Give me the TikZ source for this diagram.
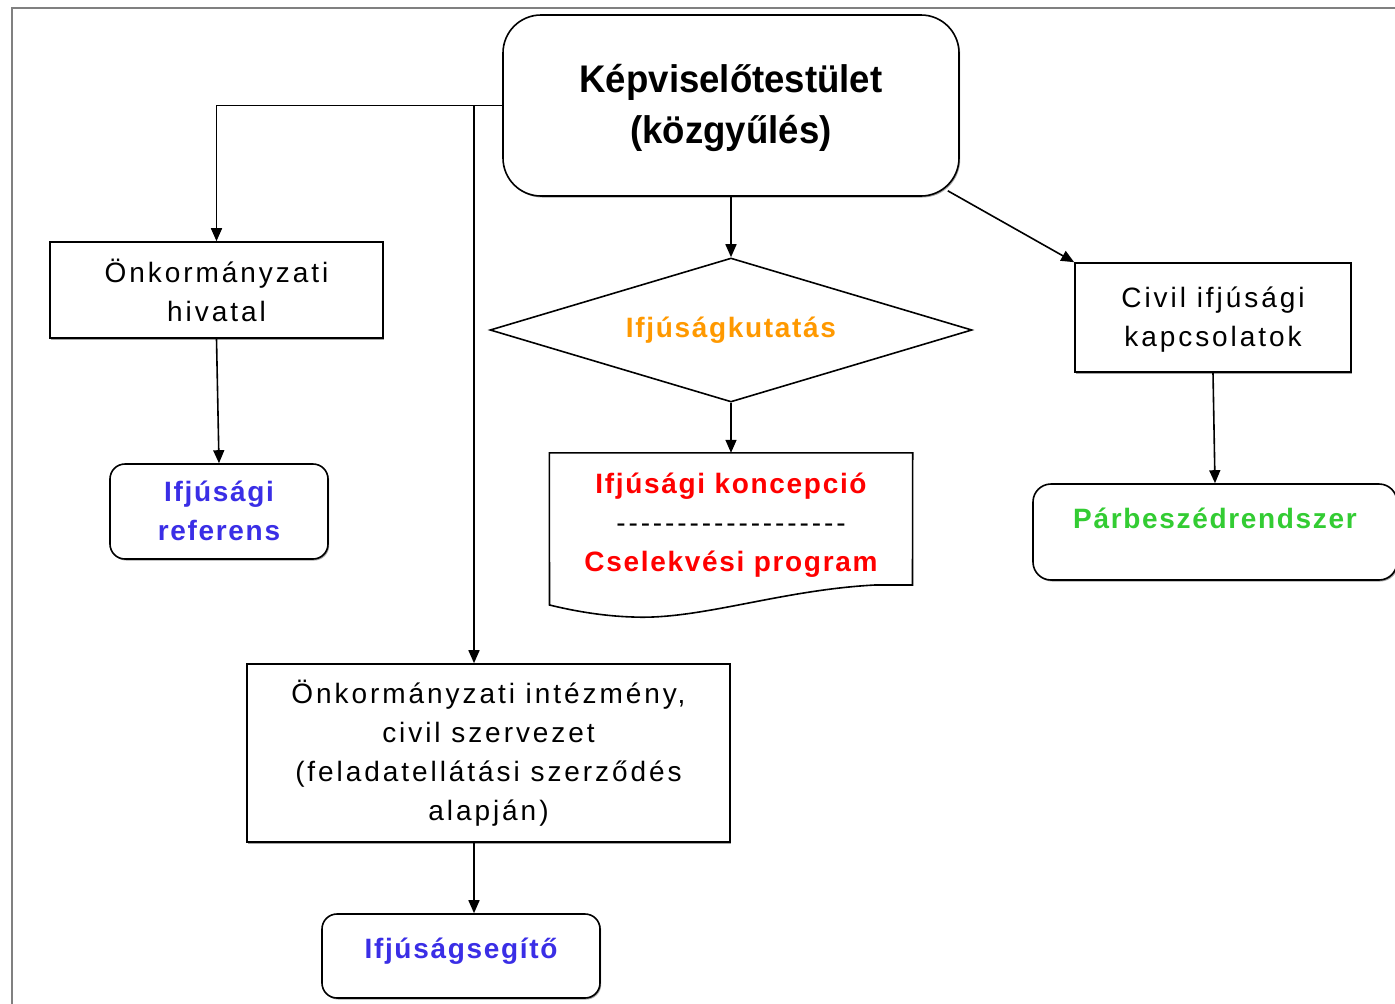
\documentclass[tikz,border=0pt]{standalone}
\usepackage{fontspec}
\setmainfont{Liberation Sans}
\newfontfamily\lsreg{Liberation Sans}[LetterSpace=10.5]
\newfontfamily\lsbold{Liberation Sans}[LetterSpace=6]
\newfontfamily\lstitle{Liberation Sans}[FakeStretch=0.95]
\usetikzlibrary{arrows.meta,shapes.geometric,calc,shadows}
\definecolor{blueT}{RGB}{58,46,230}
\definecolor{orangeT}{RGB}{255,153,0}
\definecolor{greenT}{RGB}{51,204,51}
\definecolor{redT}{RGB}{255,0,0}
\definecolor{frameC}{RGB}{128,128,128}
\newcommand\regtext{\lsreg\fontsize{28}{39}\selectfont}
\newcommand\boldtext{\lsbold\bfseries\fontsize{28}{39}\selectfont}
\newcommand\titletext{\lstitle\bfseries\fontsize{38.5}{51}\selectfont}
\newcommand\hy{\hbox{-}\kern2.9pt}
\newcommand\dashline{\hy\hy\hy\hy\hy\hy\hy\hy\hy\hy\hy\hy\hy\hy\hy\hy\hy\hy\hbox{-}}
\tikzset{
  shd/.style={drop shadow={shadow xshift=1.2pt,shadow yshift=-1.5pt,fill=black!45,opacity=0.8}},
  sbox/.style={draw,line width=1.6pt,fill=white,align=center,inner sep=0pt,font=\regtext,shd},
  rbox/.style={sbox},
  arr/.style={line width=1.6pt,-{Triangle[width=11pt,length=13pt]}},
  framestyle/.style={draw=frameC,line width=2pt}
}
\begin{document}
\begin{tikzpicture}[x=1pt,y=-1pt]
\useasboundingbox (0,0) rectangle (1395,1004);
\fill[white] (0,0) rectangle (1395,1004);
\draw[framestyle] (12,1010) -- (12,8) -- (1400,8);

\node[rbox,rounded corners=38pt,minimum width=456,minimum height=181] (title) at (731,105.5) {};
\node[font=\titletext,align=center,inner sep=0pt] (titlet) at (731,107.5) {Képviselőtestület\\(közgyűlés)};
\node[sbox,minimum width=333,minimum height=96] (hivatal) at (216.5,290) {Önkormányzati\\hivatal};
\node[rbox,rounded corners=15pt,minimum width=218,minimum height=95,font=\boldtext,text=blueT,text depth=2pt] (referens) at (219,511.5) {Ifjúsági\\referens};
\node[diamond,aspect=3.35,draw,line width=1.6pt,inner sep=0pt,minimum width=482,minimum height=144,font=\boldtext,text=orangeT] (kutat) at (731,330) {Ifjúságkutatás};
\node[align=center,inner sep=0pt,minimum width=363,minimum height=140] (doc) at (731,523) {};
\node[align=center,inner sep=0pt,font=\boldtext] (doct) at (731,525) {\textcolor{redT}{Ifjúsági koncepció}\\{\lsreg\mdseries\dashline}\\\textcolor{redT}{Cselekvési program}};
\draw[line width=1.6pt] (doc.north west) -- (doc.north east) -- (912.5,585) -- (875,585)
  .. controls (780,590) and (700,620) .. (633,617)
  .. controls (600,616) and (570,610) .. (549.5,605) -- cycle;
\node[sbox,minimum width=276,minimum height=109] (civil) at (1213,317.5) {};
\node[font=\regtext,align=center,inner sep=0pt] (civilt) at (1213,320) {Civil ifjúsági\\kapcsolatok};
\node[rbox,rounded corners=18pt,minimum width=364,minimum height=96] (parb) at (1215,532) {};
\node[font=\boldtext,text=greenT,inner sep=0pt] (parbt) at (1215,518) {Párbeszédrendszer};
\node[sbox,minimum width=483,minimum height=178] (intez) at (488.5,753) {Önkormányzati intézmény,\\civil szervezet\\(feladatellátási szerződés\\alapján)};
\node[rbox,rounded corners=15pt,minimum width=278,minimum height=84] (segito) at (461,956) {};
\node[font=\boldtext,text=blueT,inner sep=0pt] (segitot) at (461,951) {Ifjúságsegítő};

\coordinate (br) at (474,105.5);
\draw[arr] (title.west) -| (hivatal.north);
\draw[arr] (br) -- (br |- intez.north);
\draw[arr] (hivatal.south) -- (referens.north);
\draw[arr] (title.south) -- (kutat.north);
\draw[arr] (kutat.south) -- (doc.north);
\draw[arr] ($(title.south east)+(-12,-6)$) -- (civil.north west);
\draw[arr] (civil.south) -- (parb.north);
\draw[arr] (br |- intez.south) -- (br |- segito.north);
\end{tikzpicture}
\end{document}
